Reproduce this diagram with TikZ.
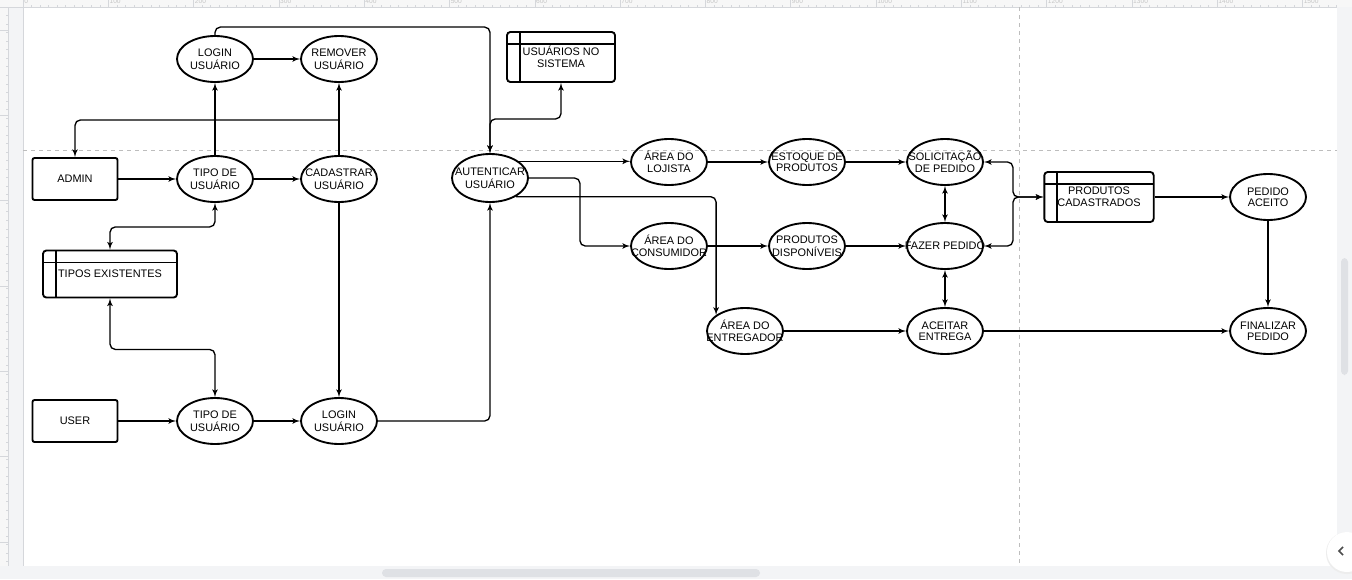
\documentclass[tikz,border=0pt]{standalone}
\usepackage{fontspec}
\setmainfont{Liberation Sans}
\usetikzlibrary{shapes.geometric,arrows}
\definecolor{rulerbg}{HTML}{F7F7F7}
\definecolor{rulerline}{HTML}{D5D7DB}
\definecolor{pagebreak}{HTML}{BDBDBD}
\definecolor{scrollgray}{HTML}{DFE1E5}
\definecolor{stripbg}{HTML}{F3F4F6}
% text of fixed-size ellipses, kept from widening the shape
\newcommand{\lbl}[1]{\hbox to 0pt{\hss\smash{\raisebox{-3.2pt}{\begin{tabular}{@{}c@{}}#1\end{tabular}}}\hss}}

\begin{document}
\begin{tikzpicture}[x=0.75pt,y=-0.75pt]
\tikzset{
proc/.style={ellipse, draw=black, line width=1.4pt, minimum width=57pt, minimum height=34.5pt, inner sep=0pt,
  font=\fontsize{8.2}{8.8}\selectfont},
actor/.style={rectangle, rounded corners=1.5pt, draw=black, line width=1.4pt, minimum width=63.75pt,
  minimum height=31.5pt, inner sep=0pt, font=\fontsize{8.2}{8.8}\selectfont},
store/.style={rectangle, rounded corners=2.5pt, draw=black, line width=1.4pt, inner sep=0pt, align=center,
  font=\fontsize{8.2}{8.8}\selectfont,
  path picture={\draw[line width=1.4pt] ([xshift=9.5pt]path picture bounding box.north west) -- ([xshift=9.5pt]path picture bounding box.south west)
    ([yshift=-9pt]path picture bounding box.north west) -- ([yshift=-9pt]path picture bounding box.north east);}},
myarrow/.style={->, >=latex', line width=1pt, rounded corners=4pt},
dblarrow/.style={<->, >=latex', line width=1pt, rounded corners=4pt},
pageline/.style={pagebreak, dashed, line width=0.6pt},
rulerlabel/.style={text=gray!45, font=\fontsize{5}{6}\selectfont, inner sep=0pt, anchor=west},
}
\useasboundingbox (0,0) rectangle (1352,579);

% editor frame
\fill[white] (0,0) rectangle (1352,579);
\fill[rulerbg] (0,0) rectangle (1352,7);
\fill[rulerbg] (0,0) rectangle (8,566);
\fill[stripbg] (8,7) rectangle (23,566);
\draw[rulerline] (0,7) -- (1337,7);
\draw[rulerline] (8,7) -- (8,566);
\draw[rulerline] (23,7) -- (23,566);
\foreach \k in {0,...,154} \draw[rulerline] (23+8.53*\k,7) -- ++(0,-2);
\foreach \k in {0,...,15} {
  \draw[rulerline] (23+85.3*\k,7) -- ++(0,-7);
  \node[rulerlabel] at (24+85.3*\k,1.5) {\number\numexpr\k*100\relax};
}
\foreach \k in {0,...,65} \draw[rulerline] (8,7+8.53*\k) -- ++(-2,0);
\foreach \k in {0,...,6} \draw[rulerline] (8,30+85.3*\k) -- ++(-8,0);
\fill[stripbg] (1337,7) rectangle (1352,566);
\fill[scrollgray, rounded corners=3pt] (1341,258) rectangle (1348,375);
\fill[stripbg] (0,566) rectangle (1352,579);
\fill[scrollgray, rounded corners=3pt] (382,569) rectangle (760,577);
\fill[black!7] (1347,553) circle (21);
\fill[white] (1347,552) circle (20);
\draw[black!70, line width=1.2pt] (1343,547) -- (1339,551) -- (1343,555);
\draw[pageline] (23,150) -- (1337,150);
\draw[pageline] (1019,7) -- (1019,566);

% admin / user side
\node[proc] (loginA) at (215,59) {\lbl{LOGIN\\USUÁRIO}};
\node[proc] (remover) at (339,59) {\lbl{REMOVER\\USUÁRIO}};
\node[actor] (admin) at (75,179) {ADMIN};
\node[proc] (tipoA) at (215,179) {\lbl{TIPO DE\\USUÁRIO}};
\node[proc] (cadastrar) at (339,179) {\lbl{CADASTRAR\\USUÁRIO}};
\node[store, minimum width=100.5pt, minimum height=35.25pt] (tipos) at (110,274) {TIPOS EXISTENTES};
\node[actor] (user) at (75,421) {USER};
\node[proc] (tipoB) at (215,421) {\lbl{TIPO DE\\USUÁRIO}};
\node[proc] (loginB) at (339,421) {\lbl{LOGIN\\USUÁRIO}};
\node[proc, minimum height=36pt] (autent) at (490,178) {\lbl{AUTENTICAR\\USUÁRIO}};
\node[store, minimum width=81pt, minimum height=37.5pt] (usuarios) at (561,57) {USUÁRIOS NO\\SISTEMA};
\coordinate (adminjoin) at (339,120);

% areas
\node[proc] (lojista) at (669,162) {\lbl{ÁREA DO\\LOJISTA}};
\node[proc] (estoque) at (807,162) {\lbl{ESTOQUE DE\\PRODUTOS}};
\node[proc] (solicit) at (945,162) {\lbl{SOLICITAÇÃO\\DE PEDIDO}};
\node[proc] (consumidor) at (669,246) {\lbl{ÁREA DO\\CONSUMIDOR}};
\node[proc] (disponiveis) at (807,246) {\lbl{PRODUTOS\\DISPONÍVEIS}};
\node[proc] (fazer) at (945,246) {\lbl{FAZER PEDIDO}};
\node[proc] (entregador) at (745,331) {\lbl{ÁREA DO\\ENTREGADOR}};
\node[proc] (aceitar) at (945,331) {\lbl{ACEITAR\\ENTREGA}};
\node[store, minimum width=82pt, minimum height=37.5pt] (prodcad) at (1099,197) {PRODUTOS\\CADASTRADOS};
\node[proc] (aceito) at (1268,197) {\lbl{PEDIDO\\ACEITO}};
\node[proc] (finalizar) at (1268,331) {\lbl{FINALIZAR\\PEDIDO}};

\draw[myarrow] (loginA) -- (remover);
\draw[myarrow] (tipoA) -- (loginA);
\draw[myarrow] (admin) -- (tipoA);
\draw[myarrow] (tipoA) -- (cadastrar);
\draw[myarrow] (cadastrar) -- (remover);
\draw[myarrow] (adminjoin) -| (admin.north);
\draw[dblarrow] (tipoA.south) -- ++(0,24) -| (tipos.north);
\draw[dblarrow] (tipos.south) -- ++(0,51) -| (tipoB.north);
\draw[myarrow] (cadastrar) -- (loginB);
\draw[myarrow] (user) -- (tipoB);
\draw[myarrow] (tipoB) -- (loginB);
\draw[myarrow] (loginB) -| (autent);
\draw[myarrow] (loginA.north) -- ++(0,-8) -| (autent.north);
\draw[dblarrow] (usuarios.south) -- ++(0,36) -| (autent.north);

\draw[myarrow] (autent.30) -- (autent.30 -| lojista.west);
\draw[myarrow] (autent.east) -- ++(51,0) |- (consumidor.west);
\draw[myarrow] (autent.-36) -| (entregador.151);
\draw[myarrow] (lojista) -- (estoque);
\draw[myarrow] (estoque) -- (solicit);
\draw[myarrow] (consumidor) -- (disponiveis);
\draw[myarrow] (disponiveis) -- (fazer);
\draw[myarrow] (entregador) -- (aceitar);
\draw[dblarrow] (solicit) -- (fazer);
\draw[dblarrow] (fazer) -- (aceitar);
\draw[dblarrow] (solicit.east) -- ++(29,0) |- (prodcad.west);
\draw[dblarrow] (fazer.east) -- ++(29,0) |- (prodcad.west);
\draw[myarrow] (prodcad) -- (aceito);
\draw[myarrow] (aceito) -- (finalizar);
\draw[myarrow] (aceitar) -- (finalizar);
\end{tikzpicture}
\end{document}
